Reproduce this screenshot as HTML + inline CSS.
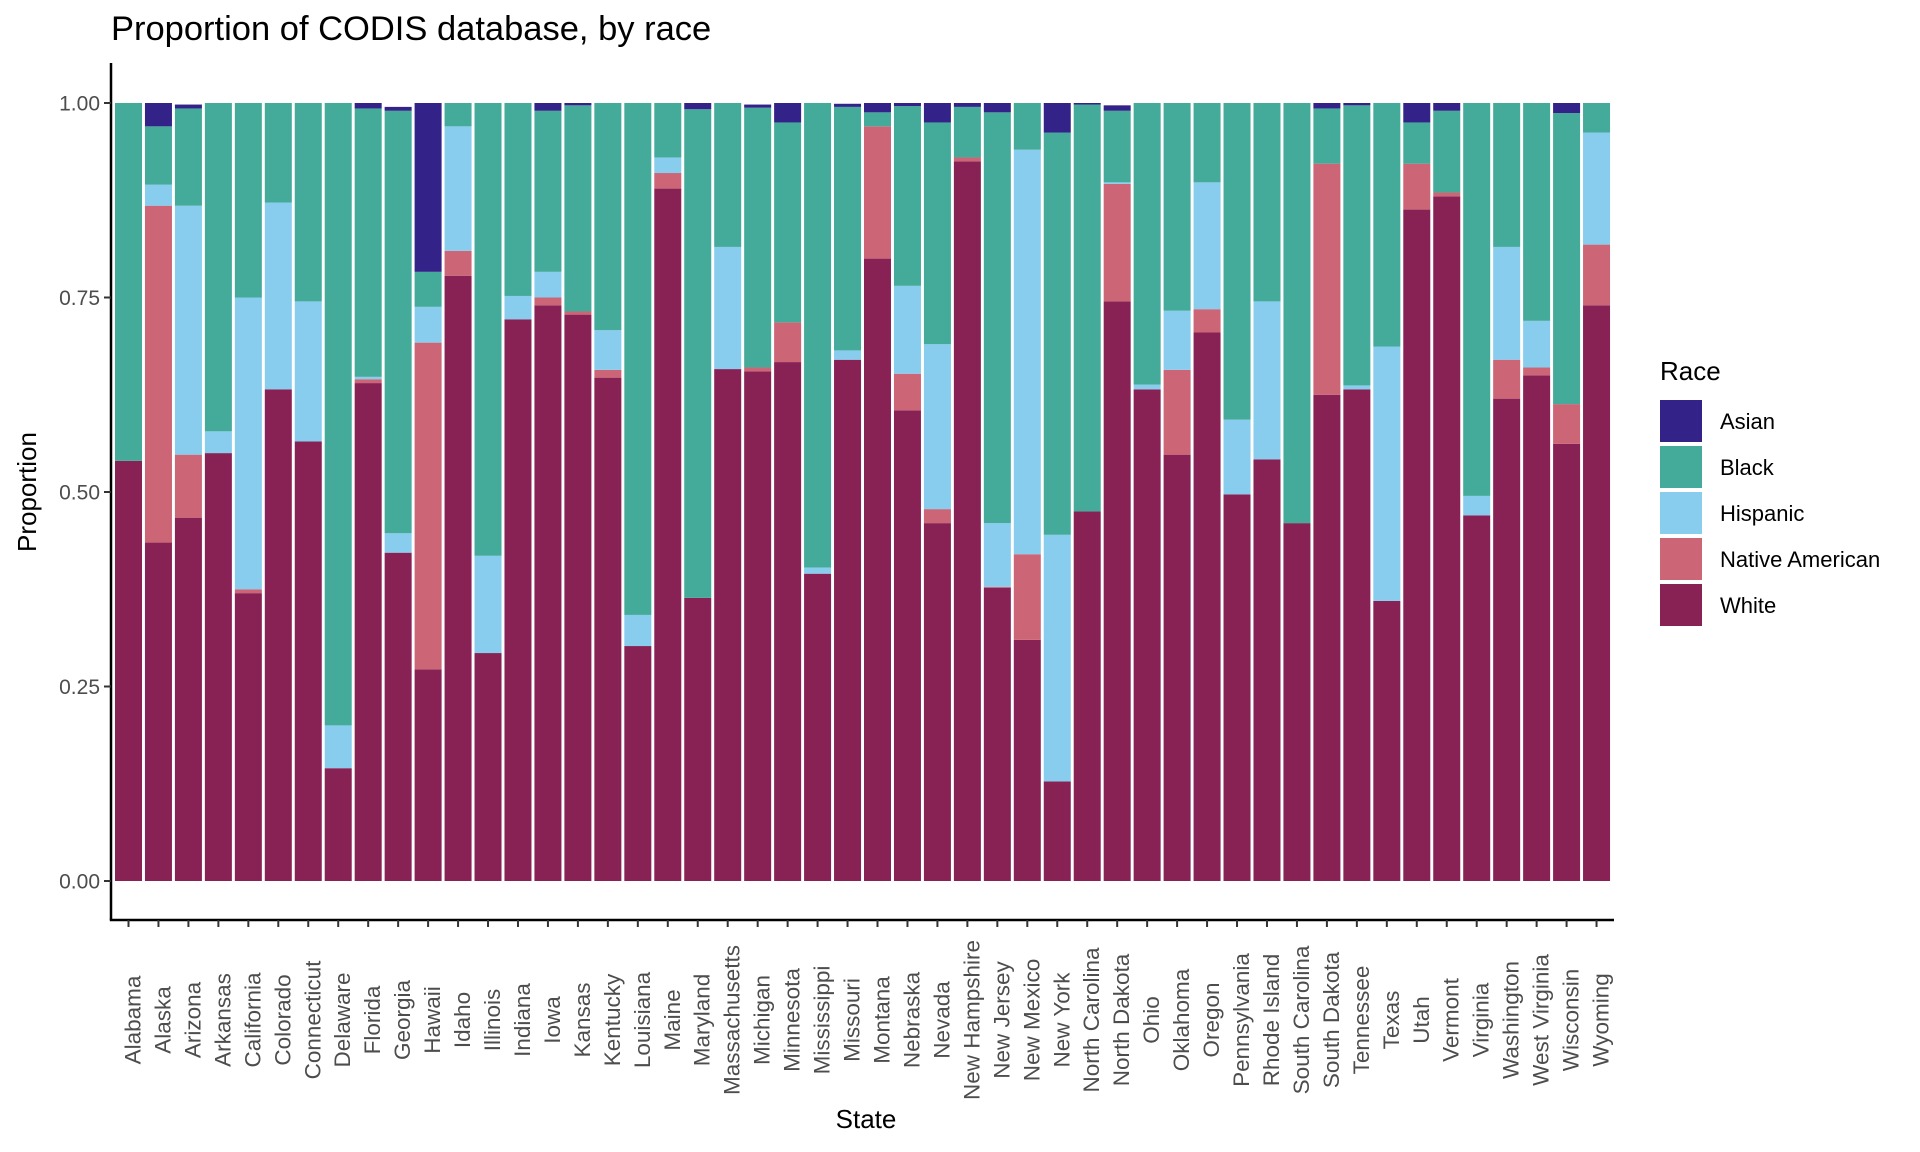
<!DOCTYPE html>
<html><head><meta charset="utf-8"><style>
html,body{margin:0;padding:0;background:#fff;}
svg{display:block;font-family:"Liberation Sans",Arial,sans-serif;}
</style></head><body>
<svg id="chart" width="1920" height="1152" viewBox="0 0 1920 1152">
<text x="111" y="40" font-size="34.5" fill="#000">Proportion of CODIS database, by race</text>
<g id="bars"></g>
<g id="axes"></g>
<text x="0" y="0" transform="translate(36,492) rotate(-90)" text-anchor="middle" font-size="26" fill="#000">Proportion</text>
<text x="866" y="1128" text-anchor="middle" font-size="26" fill="#000">State</text>
<g id="legend">
<text x="1660" y="380" font-size="26" fill="#000">Race</text>
</g>
</svg>
<script>
const states=["Alabama","Alaska","Arizona","Arkansas","California","Colorado","Connecticut","Delaware","Florida","Georgia","Hawaii","Idaho","Illinois","Indiana","Iowa","Kansas","Kentucky","Louisiana","Maine","Maryland","Massachusetts","Michigan","Minnesota","Mississippi","Missouri","Montana","Nebraska","Nevada","New Hampshire","New Jersey","New Mexico","New York","North Carolina","North Dakota","Ohio","Oklahoma","Oregon","Pennsylvania","Rhode  Island","South Carolina","South Dakota","Tennessee","Texas","Utah","Vermont","Virginia","Washington","West Virginia","Wisconsin","Wyoming"];
const white=[0.54,0.435,0.467,0.55,0.37,0.632,0.565,0.145,0.64,0.422,0.272,0.778,0.293,0.722,0.74,0.728,0.647,0.302,0.89,0.364,0.658,0.655,0.667,0.395,0.67,0.8,0.605,0.46,0.925,0.377,0.31,0.128,0.475,0.745,0.632,0.548,0.705,0.497,0.542,0.46,0.625,0.632,0.36,0.863,0.88,0.47,0.62,0.65,0.562,0.74];
const nativeAm=[0,0.433,0.081,0,0.005,0,0,0,0.005,0,0.42,0.032,0,0,0.01,0.004,0.01,0,0.02,0,0,0.005,0.051,0,0,0.17,0.047,0.018,0.005,0.001,0.11,0,0,0.151,0,0.109,0.03,0,0,0,0.297,0,0,0.059,0.005,0,0.05,0.01,0.051,0.078];
const hispanic=[0,0.027,0.32,0.028,0.375,0.24,0.18,0.055,0.003,0.025,0.046,0.16,0.125,0.03,0.033,0,0.051,0.04,0.02,0,0.157,0,0,0.008,0.012,0,0.113,0.212,0,0.082,0.52,0.317,0,0.002,0.006,0.076,0.163,0.096,0.203,0,0,0.005,0.327,0,0,0.025,0.145,0.06,0,0.144];
const black=[0.46,0.075,0.125,0.422,0.25,0.128,0.255,0.8,0.345,0.543,0.045,0.03,0.582,0.248,0.207,0.265,0.292,0.658,0.07,0.628,0.185,0.334,0.257,0.597,0.313,0.018,0.231,0.285,0.065,0.528,0.06,0.517,0.523,0.092,0.362,0.267,0.102,0.407,0.255,0.54,0.071,0.36,0.313,0.053,0.105,0.505,0.185,0.28,0.374,0.038];
const asian=[0,0.03,0.005,0,0,0,0,0,0.007,0.005,0.217,0,0,0,0.01,0.003,0,0,0,0.008,0,0.004,0.025,0,0.004,0.012,0.004,0.025,0.005,0.012,0,0.038,0.002,0.007,0,0,0,0,0,0,0.007,0.003,0,0.025,0.01,0,0,0,0.013,0];
const yTicks=[0,0.25,0.5,0.75,1];
const yTickLabels=["0.00","0.25","0.50","0.75","1.00"];
const raceNames=["Asian","Black","Hispanic","Native American","White"];
const raceColors=["#332288","#44AA99","#88CCEE","#CC6677","#882255"];

const NS="http://www.w3.org/2000/svg";
function mk(tag,attrs,parent){const e=document.createElementNS(NS,tag);for(const k in attrs)e.setAttribute(k,attrs[k]);parent.appendChild(e);return e;}
const X0=111,XR=1614,Y0=881,Y1=103,step=29.96,bw=27;
function xc(i){return 128.5+i*step;}
function y(p){return Y0-(Y0-Y1)*p;}
const gb=document.getElementById('bars');
states.forEach((s,i)=>{
  const segs=[[white[i],4,'white'],[nativeAm[i],3,'native-american'],[hispanic[i],2,'hispanic'],[black[i],1,'black'],[asian[i],0,'asian']];
  let cum=0;
  segs.forEach(([v,ci,nm])=>{
    if(v<=0)return;
    const r=mk('rect',{x:xc(i)-bw/2,y:y(cum+v),width:bw,height:y(cum)-y(cum+v),fill:raceColors[ci]},gb);
    
    
    cum+=v;
  });
});
const ga=document.getElementById('axes');
let l=mk('line',{x1:X0,y1:63,x2:X0,y2:920,stroke:'#000','stroke-width':2.5},ga);


l=mk('line',{x1:X0-1.2,y1:920,x2:XR,y2:920,stroke:'#000','stroke-width':2.5},ga);


yTicks.forEach((t,i)=>{
  const tk=mk('line',{x1:X0-7,y1:y(t),x2:X0,y2:y(t),stroke:'#333','stroke-width':2},ga);
  
  
  const tx=mk('text',{x:X0-11,y:y(t)+7.5,'text-anchor':'end','font-size':21,fill:'#4d4d4d'},ga);
  tx.textContent=yTickLabels[i];
  
  
});
states.forEach((s,i)=>{
  const tk=mk('line',{x1:xc(i),y1:920,x2:xc(i),y2:927,stroke:'#333','stroke-width':2},ga);
  
  
  const tx=mk('text',{x:0,y:0,transform:`translate(${xc(i)+12},1020) rotate(-90)`,'text-anchor':'middle','font-size':22.5,fill:'#4d4d4d','xml:space':'preserve'},ga);
  tx.textContent=s;
  
  
});
const gl=document.getElementById('legend');
raceNames.forEach((n,i)=>{
  const r=mk('rect',{x:1660,y:400+i*46,width:42,height:42,fill:raceColors[i]},gl);
  
  
  const t=mk('text',{x:1720,y:429+i*46,'font-size':22,fill:'#000'},gl);
  t.textContent=n;
  
  
});
</script>
</body></html>
